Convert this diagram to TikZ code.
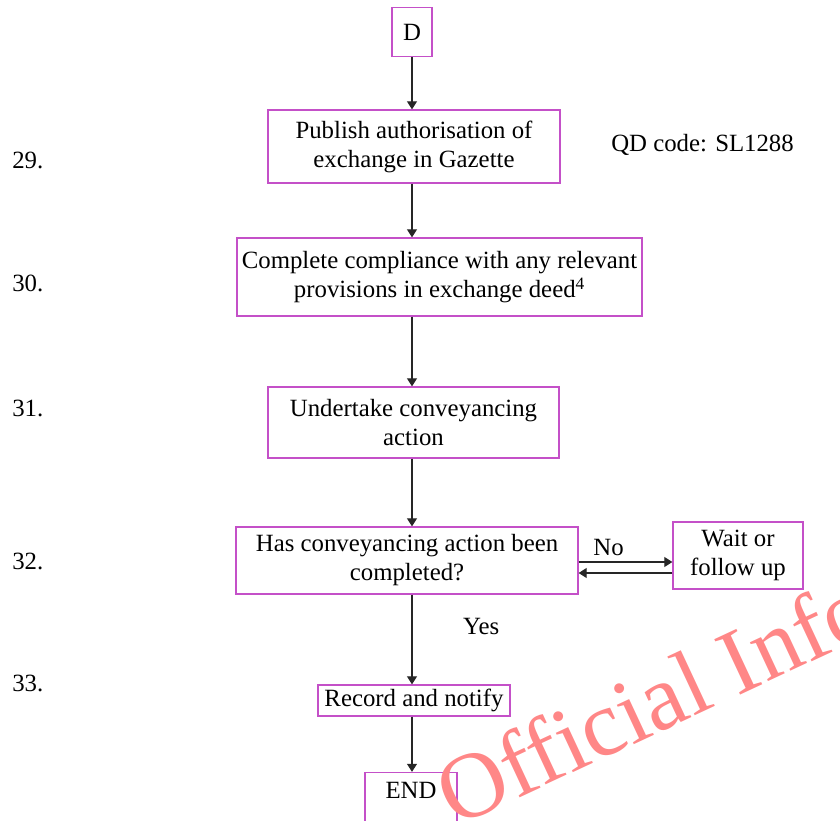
\documentclass[tikz,border=0pt]{standalone}
\usepackage{fontspec}
\setmainfont{Liberation Serif}
\usetikzlibrary{arrows.meta,positioning}
\definecolor{boxline}{RGB}{196,80,200}
\definecolor{stamp}{RGB}{255,135,135}

\begin{document}
\begin{tikzpicture}[
  x=0.75pt, y=-0.75pt,
  box/.style={draw=boxline, line width=1pt, fill=white, align=center, inner sep=2pt,
    font=\fontsize{18.6}{21.75}\selectfont},
  lbl/.style={font=\fontsize{18.6}{21.75}\selectfont, inner sep=0pt},
  arr/.style={draw=black!85, line width=0.8pt, -{Triangle[length=6pt,width=7.5pt]}}
]
\useasboundingbox (0,0) rectangle (840,821);
% main column
\node[box, minimum width=30pt, minimum height=36.75pt] (d) at (412,32) {D};
\node[box, minimum width=219pt, minimum height=54.75pt] (publish) at (414,146.5) {Publish authorisation of\\exchange in Gazette};
\node[box, minimum width=303.75pt, minimum height=58.5pt] (comply) at (439.5,277) {Complete compliance with any relevant\\provisions in exchange deed\textsuperscript{4}};
\node[box, minimum width=218.25pt, minimum height=53.25pt] (convey) at (413.5,422.5) {Undertake conveyancing\\action};
\node[box, minimum width=256.5pt, minimum height=50.25pt] (done) at (407,560.5) {Has conveyancing action been\\completed?};
\node[box, minimum width=97.5pt, minimum height=50.25pt] (wait) at (738,555.5) {Wait or\\follow up};
\node[box, minimum width=144pt, minimum height=23.25pt] (record) at (414,700.5) {Record and notify};
\node[box, minimum width=69pt, minimum height=36.75pt, text depth=10pt] (end) at (411,797) {END};
% step numbers
\node[lbl, anchor=west] (n29) at (12,160) {29.};
\node[lbl, anchor=west] (n30) at (12,283) {30.};
\node[lbl, anchor=west] (n31) at (12,408) {31.};
\node[lbl, anchor=west] (n32) at (12,561) {32.};
\node[lbl, anchor=west] (n33) at (12,683) {33.};
\node[lbl, anchor=west] (qd) at (611,145) {QD code: SL1288};
% connectors
\draw[arr] (d) -- (d |- publish.north);
\draw[arr] (d |- publish.south) -- (d |- comply.north);
\draw[arr] (d |- comply.south) -- (d |- convey.north);
\draw[arr] (d |- convey.south) -- (d |- done.north);
\draw[arr] (d |- done.south) -- node[lbl, right=38pt, pos=0.36]{Yes} (d |- record.north);
\draw[arr] (d |- record.south) -- (d |- end.north);
\draw[arr] (done.east |- 0,562) -- node[lbl, above=4pt, pos=0.32]{No} (wait.west |- 0,562);
\draw[arr] (wait.west |- 0,573) -- (done.east |- 0,573);
% watermark
\begin{scope}
\clip (0,0) rectangle (840,821);
\node[anchor=base west, rotate=25, text=stamp, inner sep=0pt, font=\fontsize{70}{70}\selectfont] (mark) at (455,828) {Official Information};
\end{scope}
\end{tikzpicture}
\end{document}
